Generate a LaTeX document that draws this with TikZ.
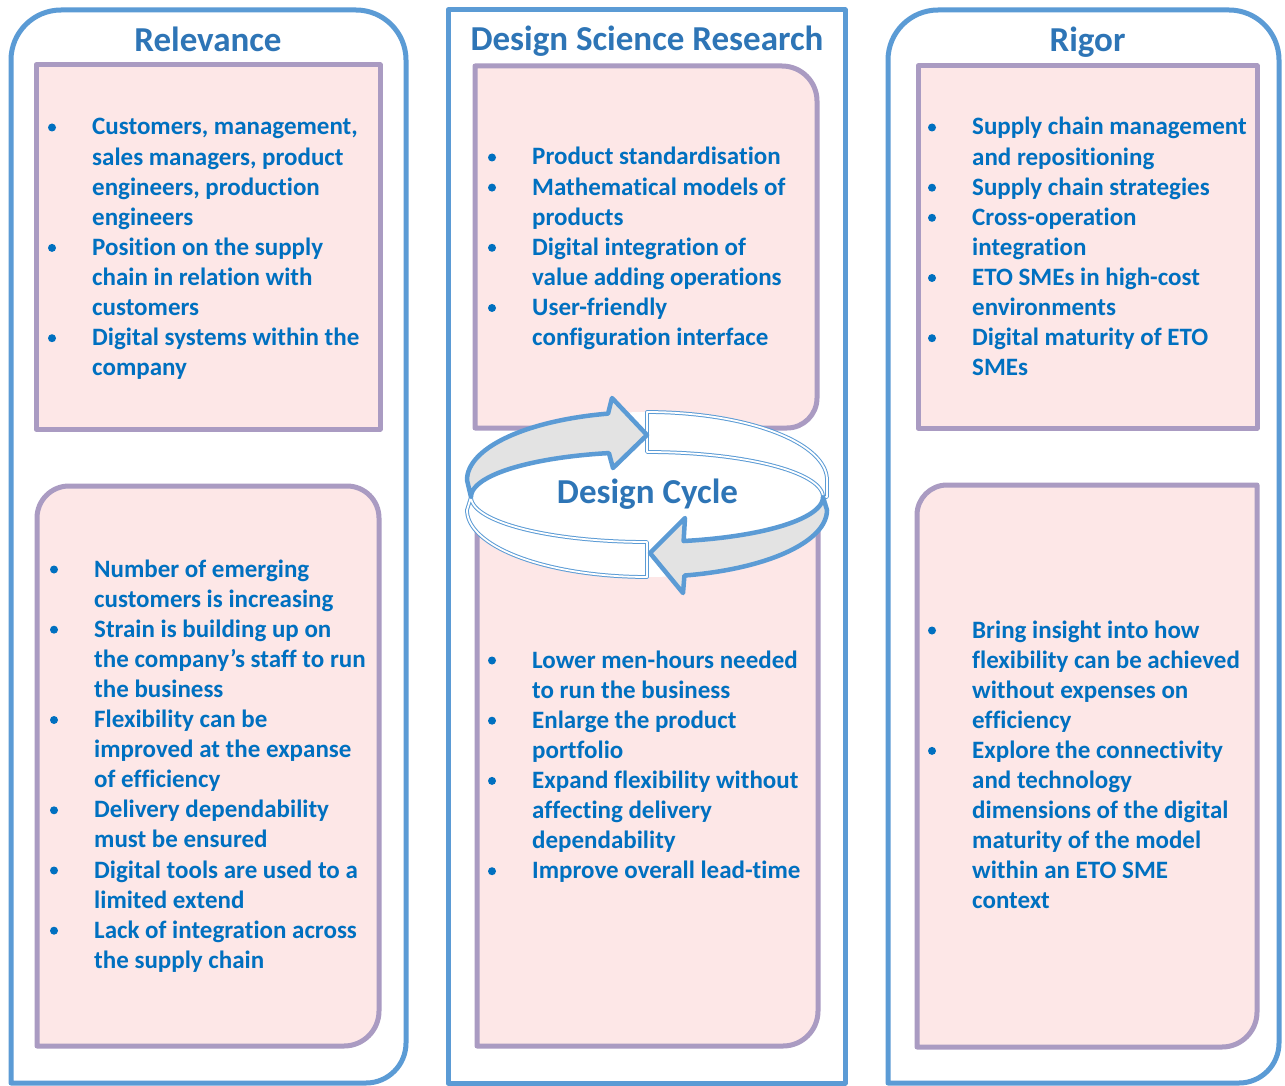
\documentclass[tikz,border=0pt]{standalone}
\usepackage{fontspec}
\setmainfont{Carlito}[Ligatures=NoCommon]
\definecolor{outblue}{HTML}{5B9BD5}
\definecolor{purp}{HTML}{AA9BC2}
\definecolor{pinkf}{HTML}{FDE7E7}
\definecolor{txtc}{HTML}{0070C0}
\definecolor{titc}{HTML}{2E75B6}
\definecolor{grayf}{HTML}{E3E3E3}
\tikzset{
  outerbox/.style={draw=outblue, line width=5pt, line join=round, line cap=round},
  innerbox/.style={draw=purp, fill=pinkf, line width=5pt, line join=round, line cap=round},
  txt/.style={anchor=base west, inner sep=0pt, text=txtc, font=\fontsize{25}{30}\selectfont\bfseries},
  ttl/.style={anchor=base, inner sep=0pt, text=titc, font=\fontsize{35}{40}\selectfont\bfseries},
  grayarrow/.style={draw=outblue, line width=4.5pt, fill=grayf, line join=round},
  whiteband/.style={draw=outblue, double=white, double distance=1.8pt, line width=1pt, fill=white, line join=round},
}
% rounded box with individual corner radii: style, x1,y1,x2,y2, tl,tr,br,bl
\newcommand\rbox[9]{%
  \draw[#1] (#2,#3+#6) .. controls (#2,#3+0.448*#6) and (#2+0.448*#6,#3) .. (#2+#6,#3)
    -- (#4-#7,#3) .. controls (#4-0.448*#7,#3) and (#4,#3+0.448*#7) .. (#4,#3+#7)
    -- (#4,#5-#8) .. controls (#4,#5-0.448*#8) and (#4-0.448*#8,#5) .. (#4-#8,#5)
    -- (#2+#9,#5) .. controls (#2+0.448*#9,#5) and (#2,#5-0.448*#9) .. (#2,#5-#9) -- cycle;}
% bulleted lines: prefix, bullet x, text x, first baseline, list of flag/text
\newcommand\blines[5]{%
  \foreach \f/\t [count=\i from 0] in {#5} {
    \pgfmathsetmacro\yy{#4+30.1*\i}
    \node[txt] (#1\i) at (#3,\yy) {\t};
    \ifnum\f=1 \fill[txtc] (#2,\yy-7.5) circle (4); \fi
  }}
\begin{document}
\begin{tikzpicture}[x=1pt,y=-1pt]
\fill[white] (0,0) rectangle (1285,1086);
\useasboundingbox (0,0) rectangle (1285,1086);
% outer columns
\rbox{outerbox}{11}{10}{406}{1083}{50}{50}{40}{0}
\rbox{outerbox}{448}{10}{845}{1083}{0}{0}{0}{0}
\rbox{outerbox}{888}{10}{1279}{1083}{50}{50}{40}{0}
% inner boxes
\rbox{innerbox}{36}{65}{380}{429}{0}{0}{0}{0}
\rbox{innerbox}{37}{486}{379}{1046}{32}{32}{35}{0}
\rbox{innerbox}{475}{66}{817}{428}{0}{35}{30}{0}
\rbox{innerbox}{477}{490}{818}{1046}{0}{0}{35}{0}
\rbox{innerbox}{918}{66}{1257}{428}{0}{0}{0}{0}
\rbox{innerbox}{917}{485}{1257}{1047}{30}{0}{35}{0}
% titles
\node[ttl] (trel) at (208,51.5) {Relevance};
\node[ttl] (tdsr) at (647,51) {Design Science Research};
\node[ttl] (trig) at (1087.5,52) {Rigor};
% texts
\blines{lt}{52}{92}{135}{1/{Customers, management,}, 0/{sales managers, product}, 0/{engineers, production}, 0/{engineers}, 1/{Position on the supply}, 0/{chain in relation with}, 0/{customers}, 1/{Digital systems within the}, 0/{company}}
\blines{mt}{492}{532}{165}{1/{Product standardisation}, 1/{Mathematical models of}, 0/{products}, 1/{Digital integration of}, 0/{value adding operations}, 1/{User-friendly}, 0/{configuration interface}}
\blines{rt}{932}{972}{135}{1/{Supply chain management}, 0/{and repositioning}, 1/{Supply chain strategies}, 1/{Cross-operation}, 0/{integration}, 1/{ETO SMEs in high-cost}, 0/{environments}, 1/{Digital maturity of ETO}, 0/{SMEs}}
\blines{lb}{54}{94}{577}{1/{Number of emerging}, 0/{customers is increasing}, 1/{Strain is building up on}, 0/{the company’s staff to run}, 0/{the business}, 1/{Flexibility can be}, 0/{improved at the expanse}, 0/{of efficiency}, 1/{Delivery dependability}, 0/{must be ensured}, 1/{Digital tools are used to a}, 0/{limited extend}, 1/{Lack of integration across}, 0/{the supply chain}}
\blines{mb}{492}{532}{668}{1/{Lower men-hours needed}, 0/{to run the business}, 1/{Enlarge the product}, 0/{portfolio}, 1/{Expand flexibility without}, 0/{affecting delivery}, 0/{dependability}, 1/{Improve overall lead-time}}
\blines{rb}{932}{972}{638}{1/{Bring insight into how}, 0/{flexibility can be achieved}, 0/{without expenses on}, 0/{efficiency}, 1/{Explore the connectivity}, 0/{and technology}, 0/{dimensions of the digital}, 0/{maturity of the model}, 0/{within an ETO SME}, 0/{context}}
% design cycle ring
\fill[white] plot[domain=0:180, samples=60, variable=\a] ({647+180*cos(\a)},{480-68*sin(\a)})
  -- plot[domain=180:360, samples=60, variable=\a] ({647+180*cos(\a)},{510-67*sin(\a)}) -- cycle;
\draw[whiteband] plot[domain=90:0, samples=40, variable=\a] ({647+180*cos(\a)},{480-68*sin(\a)})
  -- (827,497) -- plot[domain=0:90, samples=40, variable=\a] ({647+176*cos(\a)},{497-45*sin(\a)}) -- cycle;
\draw[whiteband] plot[domain=-90:-180, samples=40, variable=\a] ({647+176*cos(\a)},{497-45*sin(\a)})
  -- plot[domain=-180:-90, samples=40, variable=\a] ({647+180*cos(\a)},{510-67*sin(\a)}) -- cycle;
\draw[grayarrow] plot[domain=180:102.5, samples=40, variable=\a] ({647+180*cos(\a)},{480-68*sin(\a)})
  -- (612,398) -- (647,435) -- (613,468)
  -- plot[domain=102.5:180, samples=40, variable=\a] ({647+176*cos(\a)},{497-45*sin(\a)}) -- cycle;
\draw[grayarrow] plot[domain=0:-78, samples=40, variable=\a] ({647+176*cos(\a)},{497-45*sin(\a)})
  -- (685,518) -- (650,553) -- (683,593)
  -- plot[domain=-78:0, samples=40, variable=\a] ({647+180*cos(\a)},{510-67*sin(\a)}) -- cycle;
\node[ttl] (dc) at (647.5,503) {Design Cycle};
\end{tikzpicture}
\end{document}
